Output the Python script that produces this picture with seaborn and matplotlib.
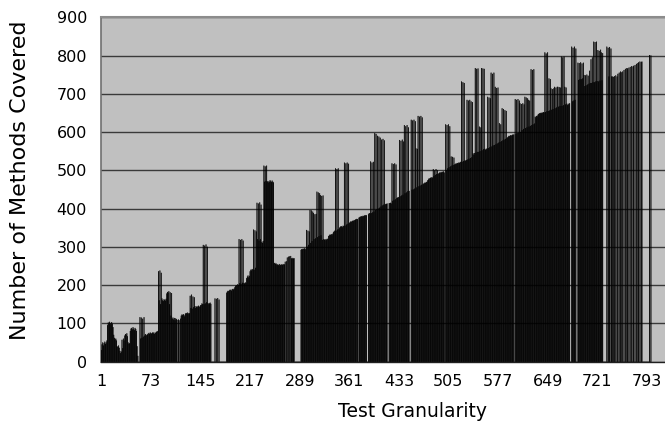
import numpy as np
import pandas as pd
import matplotlib
matplotlib.use("Agg")
import matplotlib.pyplot as plt
import seaborn as sns

# ---- data (one value per test-granularity category) ----
methods_covered = [
    # 1-56
    30, 45, 50, 42, 48, 52, 46, 50, 55,
    95, 102, 98, 104, 100, 97, 103, 99, 90,
    70, 62, 58, 60, 55,
    40, 38, 42, 36,
    28, 22, 26,
    57, 35, 60, 55,
    68, 72, 70, 74, 66,
    50, 46, 48,
    80, 86, 88, 84, 90, 86, 82, 88, 85, 80,
    40, 15,
    0, 0,
    # 57-103
    116, 60, 115, 62, 112, 65, 116, 68,
    72, 68, 70, 71,
    73, 75, 72, 76, 74, 73, 75, 77, 74, 72, 76, 75, 78,
    78, 80,
    236, 160, 238, 150, 232, 165,
    160, 158, 163, 161, 159, 164,
    178, 182, 180, 184, 150, 181, 120, 179,
    # 104-160
    112, 115, 110, 114, 108, 113, 111,
    109, 0, 110, 108, 0, 112,
    120, 123, 121, 124, 122, 118,
    125, 127, 126, 128, 124, 127, 126,
    172, 140, 175, 138, 170, 142, 168, 145,
    140, 143, 145, 142, 146, 144, 143, 147, 148,
    152, 150,
    305, 150, 303, 152, 306, 155, 300,
    153, 150, 152, 154, 151,
    # 161-200
    0, 0, 0, 0, 0,
    165, 0, 164, 0, 166, 0, 162,
    0, 0, 0, 0, 0, 0, 0, 0, 0, 0,
    180, 183, 185, 184, 186, 188, 187, 185, 189, 190, 188, 191,
    195, 198, 200, 197, 202, 200,
    # 201-251
    320, 205, 318, 203, 320, 206, 316, 205,
    204, 207, 205,
    218, 222, 225, 220, 224,
    236, 240, 238, 242, 240,
    345, 240, 343, 245, 340,
    415, 320, 413, 316, 416, 320, 410,
    312, 310, 315,
    512, 470, 510, 472, 512, 470,
    472, 468, 470, 474, 471, 469, 473, 470, 468,
    # 252-298
    257, 258, 255, 256,
    252, 254, 253, 251, 255, 252, 253, 254, 252, 255, 253, 254,
    261, 0, 262,
    272, 0, 274, 275, 0, 276,
    270, 268, 271, 269, 270,
    0, 0, 0, 0, 0, 0, 0, 0, 0,
    292, 294, 293, 295, 294, 296, 293, 295,
    # 299-361
    344, 300, 342, 305, 340,
    396, 310, 395, 315, 392,
    388, 320, 385, 322, 386,
    444, 325, 442, 328, 440,
    435, 330, 433, 318, 434, 320,
    318, 320, 317, 319, 321, 320,
    328, 330, 332, 331, 333, 330, 334,
    338, 340, 342,
    505, 342, 503, 345, 505, 346,
    350, 352, 354, 353, 351, 355, 354,
    520, 355, 518, 358, 520, 360, 517, 362,
    # 362-422
    364, 366, 365, 367, 368, 367, 370, 369, 371, 372, 373, 372,
    0,
    376, 377, 379, 378, 380, 379, 381, 380, 382, 381, 383,
    382, 0, 0, 385,
    388, 387,
    523, 388, 520, 390, 522, 392,
    597, 396, 595, 398, 590, 400, 588, 402,
    585, 405, 580, 408, 582, 410, 578, 410, 412,
    412, 413, 0, 0, 414,
    414, 415, 413,
    # 423-500
    518, 420, 516, 422, 518, 424, 515,
    427, 428, 430, 429,
    579, 432, 577, 434, 580, 436, 575,
    618, 440, 615, 442, 618, 445, 612, 446,
    0, 0,
    632, 449, 630, 450, 632, 452, 628,
    557, 455, 556,
    642, 458, 640, 460, 642, 462, 638,
    463, 465, 466, 468, 467, 469, 470,
    474, 476, 479, 478, 480, 482, 479, 481,
    503, 485, 500, 488, 503, 490, 500,
    490, 492, 494, 493, 495, 494, 496, 495, 497, 494,
    0,
    # 501-601
    620, 500, 618, 505, 620, 508, 615, 510,
    536, 512, 535, 514, 533,
    515, 516, 518, 517, 519, 518, 520, 519, 521, 522,
    732, 522, 730, 524, 728, 525,
    525, 527,
    684, 528, 682, 530, 684, 532, 680, 534, 678,
    544, 540, 545,
    767, 546, 765, 548, 766, 548,
    614, 550, 612,
    767, 552, 766, 555, 765, 556,
    553, 555, 557,
    692, 558, 690, 560, 688,
    755, 562, 752, 565, 755, 566,
    718, 568, 715, 570, 716, 572,
    623, 574, 620, 576,
    662, 578, 660, 580,
    657, 582, 655, 584,
    586, 588, 590, 589, 591, 592, 590, 593, 592, 594,
    0,
    # 602-692
    686, 595, 684, 597, 686, 598, 682,
    675, 600, 673, 605, 675, 608, 672,
    692, 610, 690, 612, 688,
    684, 614, 682, 616,
    764, 618, 762, 620, 764, 622,
    640, 638, 642, 641,
    645, 647, 649, 648, 650, 649, 651, 650, 652, 651,
    808, 652, 805, 654, 808, 655,
    740, 656, 738,
    714, 658, 712, 660, 714,
    718, 662, 716, 664, 718,
    718, 666, 717, 668, 716,
    797, 668, 795, 670, 797,
    718, 672, 716, 674,
    670, 672, 674, 675,
    0, 0,
    823, 680, 820, 682, 823, 684, 818,
    0, 0,
    # 693-799
    781, 736, 780, 738, 782, 738, 779, 740, 781,
    749, 720, 748, 722, 750, 724, 747, 726,
    760, 728, 790, 728, 795, 730,
    836, 730, 835, 732, 836, 733,
    814, 732, 812, 734, 815,
    808, 735, 806,
    0, 0, 0, 0,
    0, 823, 0, 820, 745, 822, 0, 818, 745,
    745, 0, 744, 746, 0, 748, 0, 745,
    752, 0, 755, 0, 758, 756, 0, 758, 0,
    762, 0, 765, 0, 767, 766, 0, 768, 0,
    770, 0, 772, 0, 771, 773, 0, 775,
    0, 778, 0, 780, 782, 0, 784, 0, 783, 784,
    0, 0, 0, 0, 0, 0, 0, 0, 0, 0,
    801, 0, 800,
]
granularity = list(range(1, len(methods_covered) + 1))
x_tick_labels = [1, 73, 145, 217, 289, 361, 433, 505, 577, 649, 721, 793]
y_ticks = [0, 100, 200, 300, 400, 500, 600, 700, 800, 900]

df = pd.DataFrame({"granularity": granularity, "methods": methods_covered})

sns.set_style("white")
plt.rcParams["font.family"] = ["DejaVu Sans"]

W, H = 665, 436
fig = plt.figure(figsize=(W / 100, H / 100), dpi=100)
fig.patch.set_facecolor("white")
left_px, right_px, top_px, bottom_px = 101, 665, 17.3, 361.7
ax = fig.add_axes([left_px / W, (H - bottom_px) / H,
                   (right_px - left_px) / W, (bottom_px - top_px) / H])
ax.set_facecolor("#c0c0c0")

sns.barplot(data=df, x="granularity", y="methods", native_scale=True,
            color="black", saturation=1, edgecolor="black", linewidth=0.25,
            width=0.9, errorbar=None, ax=ax, zorder=3)
for patch in ax.patches:
    patch.set_snap(False)

px_per_cat = 0.69
ax.set_xlim(0.5, 0.5 + (right_px - left_px) / px_per_cat)
ax.set_ylim(0, 900)
ax.set_yticks(y_ticks)
ax.set_xticks(x_tick_labels)
ax.set_xticklabels([str(v) for v in x_tick_labels])
ax.set_xticks(np.arange(0.5, 820, 1.0), minor=True)

ax.yaxis.grid(True, color="#3a3a3a", linewidth=1.0, zorder=1)
ax.xaxis.grid(False)
ax.set_axisbelow(True)

ax.tick_params(axis="x", which="major", length=0, pad=9, labelsize=11.5,
               colors="black")
ax.tick_params(axis="x", which="minor", length=5, width=0.4, color="#404040",
               direction="out")
ax.tick_params(axis="y", which="major", length=5, width=1.0, color="#404040",
               direction="out", pad=5, labelsize=11.5, labelcolor="black")

ax.spines["right"].set_visible(False)
ax.spines["top"].set_color("#8c8c8c")
ax.spines["top"].set_linewidth(1.5)
ax.spines["left"].set_color("#707070")
ax.spines["left"].set_linewidth(1.2)
ax.spines["bottom"].set_color("#202020")
ax.spines["bottom"].set_linewidth(1.0)

ax.set_xlabel("Test Granularity", fontsize=13.5, color="black")
ax.set_ylabel("Number of Methods Covered", fontsize=16, color="black")
ax.xaxis.set_label_coords((413 - left_px) / (right_px - left_px), -0.118)
ax.yaxis.set_label_coords(-0.126, 0.528)

fig.savefig("out.png", dpi=100)
